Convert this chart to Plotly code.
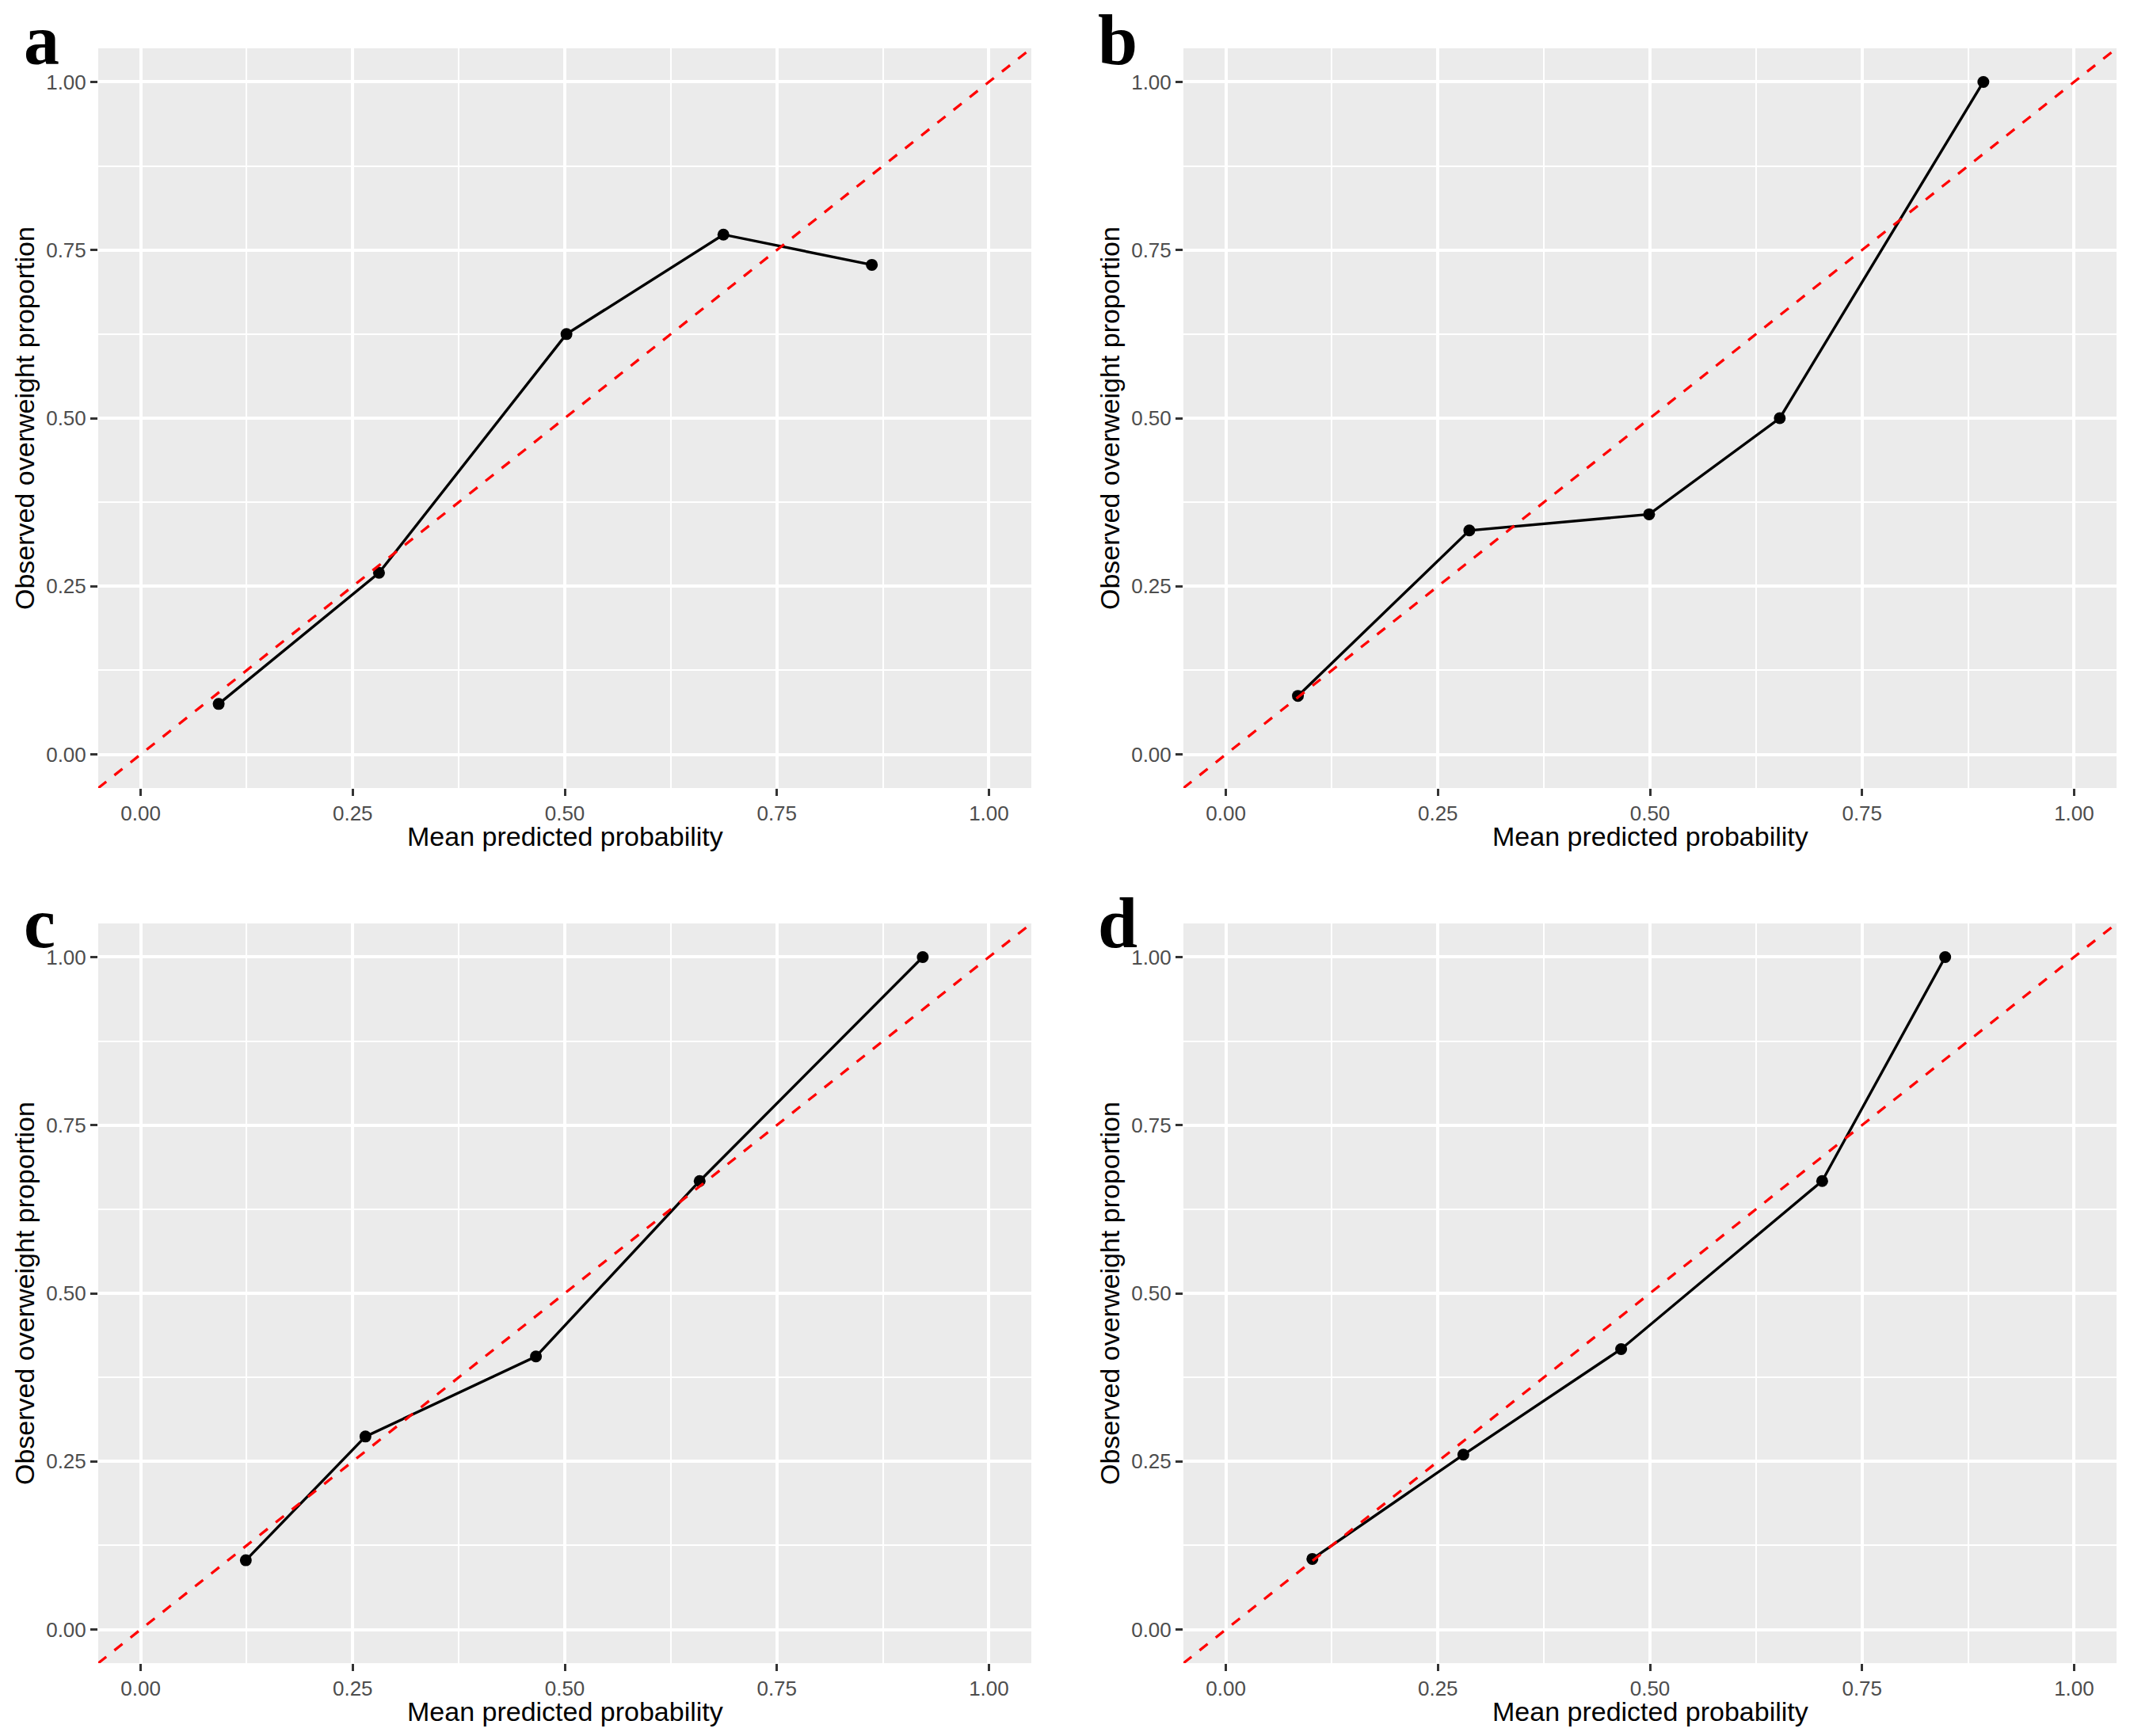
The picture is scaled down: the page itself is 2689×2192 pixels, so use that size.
import plotly.graph_objects as go

W, H = 2689, 2192

# ---- data ----
panel_labels = ["a", "b", "c", "d"]
pred_a = [0.092, 0.281, 0.502, 0.687, 0.862]
obs_a = [0.075, 0.270, 0.625, 0.773, 0.728]
pred_b = [0.085, 0.287, 0.499, 0.653, 0.893]
obs_b = [0.087, 0.333, 0.357, 0.500, 1.000]
pred_c = [0.124, 0.265, 0.466, 0.659, 0.922]
obs_c = [0.103, 0.287, 0.406, 0.667, 1.000]
pred_d = [0.102, 0.280, 0.466, 0.703, 0.848]
obs_d = [0.105, 0.260, 0.417, 0.667, 1.000]
ref_line = [-0.05, 1.05]
tick_vals = [0, 0.25, 0.5, 0.75, 1.0]
tick_text = ["0.00", "0.25", "0.50", "0.75", "1.00"]
minor_vals = [0.125, 0.375, 0.625, 0.875]
x_title = "Mean predicted probability"
y_title = "Observed overweight proportion"

series = [(pred_a, obs_a), (pred_b, obs_b), (pred_c, obs_c), (pred_d, obs_d)]

# ---- layout geometry (pixels) ----
PW, PH = 1178, 934
lefts = [124, 1494, 124, 1494]
tops = [61, 61, 1166, 1166]


def xp(px):
    return px / W


def yp(py):
    return 1 - py / H


fig = go.Figure()
layout = dict(
    width=W, height=H,
    margin=dict(l=0, r=0, t=0, b=0),
    paper_bgcolor="white",
    plot_bgcolor="#EBEBEB",
    showlegend=False,
    annotations=[],
)

for i, (px_, py_) in enumerate(series):
    n = "" if i == 0 else str(i + 1)
    xa, ya = "x" + n, "y" + n
    L, T = lefts[i], tops[i]
    axis = dict(
        range=[-0.05, 1.05], tickmode="array", tickvals=tick_vals, ticktext=tick_text,
        showgrid=True, gridcolor="white", gridwidth=3.5,
        minor=dict(tickmode="array", tickvals=minor_vals, showgrid=True,
                   gridcolor="white", gridwidth=1.8, ticks=""),
        zeroline=False, showline=False, ticks="outside", ticklen=9, tickwidth=2.5,
        tickcolor="#333333",
        tickfont=dict(family="Liberation Sans", size=26, color="#4D4D4D"),
        fixedrange=True,
    )
    layout["xaxis" + n] = dict(axis, domain=[xp(L), xp(L + PW)], anchor=ya)
    layout["yaxis" + n] = dict(axis, domain=[yp(T + PH), yp(T)], anchor=xa)

    fig.add_trace(go.Scatter(
        x=px_, y=py_, mode="lines+markers", xaxis=xa, yaxis=ya,
        line=dict(color="black", width=3.4),
        marker=dict(color="black", size=15),
        hoverinfo="skip",
    ))
    fig.add_trace(go.Scatter(
        x=ref_line, y=ref_line, mode="lines", xaxis=xa, yaxis=ya,
        line=dict(color="#FF0000", width=3.3, dash="13px,13px"),
        hoverinfo="skip",
    ))

    # axis titles
    layout["annotations"].append(dict(
        text=x_title, xref="paper", yref="paper",
        x=xp(L + PW / 2), y=yp(T + 995), xanchor="center", yanchor="middle",
        showarrow=False, font=dict(family="Liberation Sans", size=34, color="black"),
    ))
    layout["annotations"].append(dict(
        text=y_title, xref="paper", yref="paper", textangle=-90,
        x=xp(L - 93), y=yp(T + PH / 2), xanchor="center", yanchor="middle",
        showarrow=False, font=dict(family="Liberation Sans", size=34, color="black"),
    ))
    # panel letter
    base = 80 if i < 2 else 1195
    layout["annotations"].append(dict(
        text="<b>" + panel_labels[i] + "</b>", xref="paper", yref="paper",
        x=xp(L - 96 if i % 2 == 0 else L - 110), y=yp(base - 30), xanchor="left", yanchor="middle",
        showarrow=False, font=dict(family="Liberation Serif", size=90, color="black"),
    ))

fig.update_layout(**layout)
fig.write_html("out.html", config={"displayModeBar": False},
               post_script="document.body.style.margin='0';")
